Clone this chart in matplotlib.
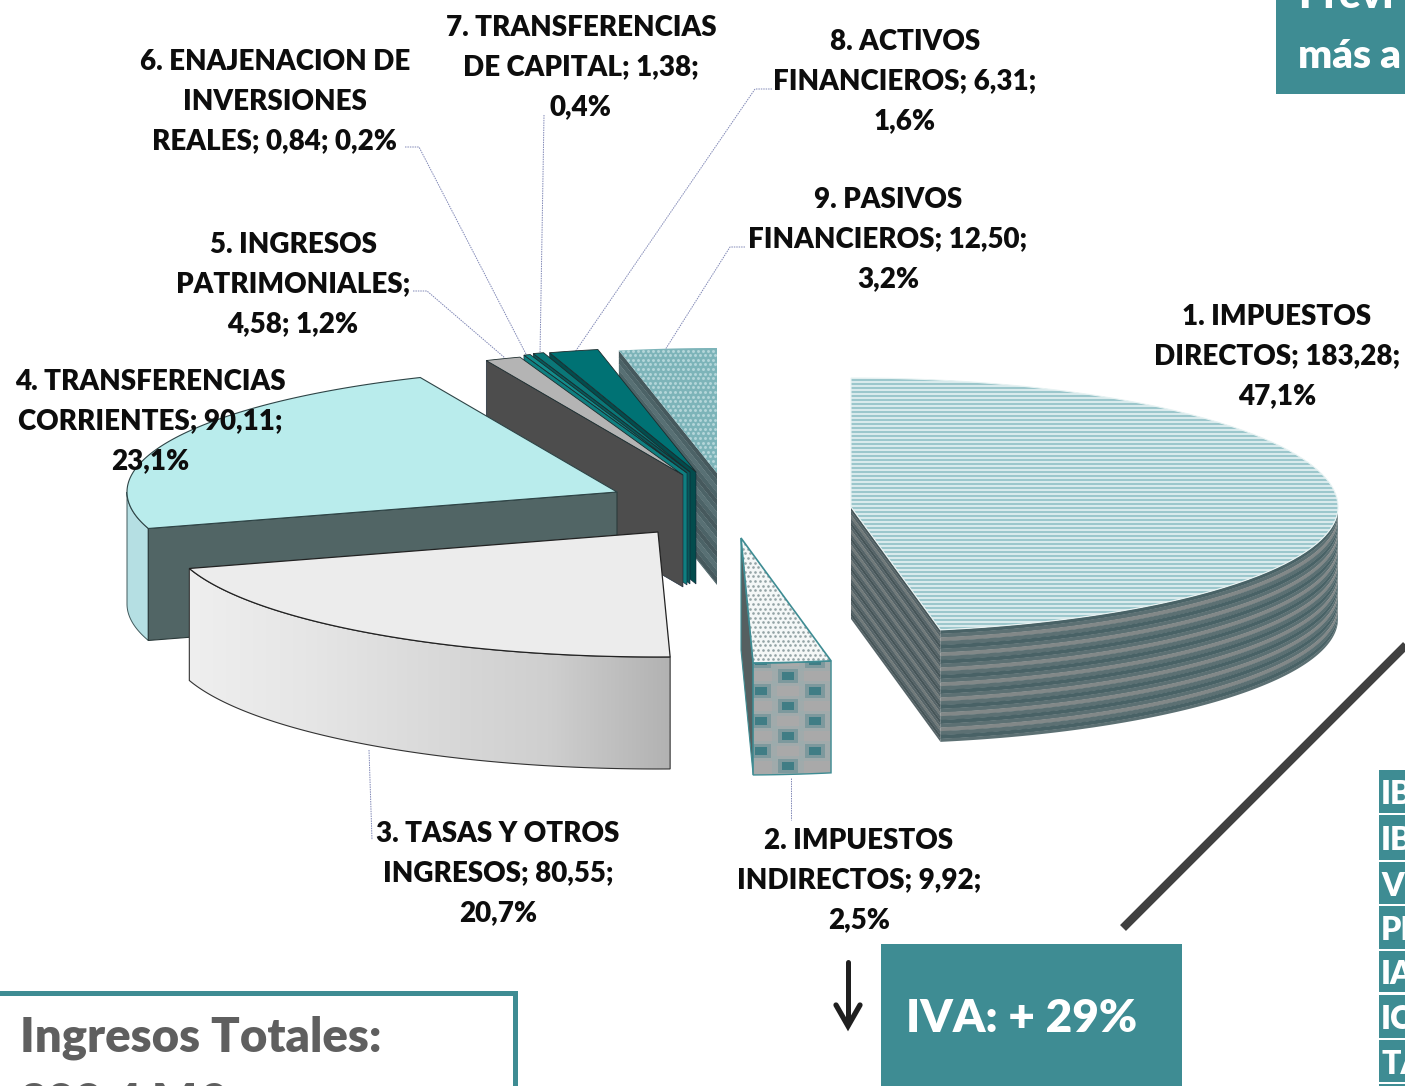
#!/usr/bin/env python3
"""Exploded 3D-style pie of budget income by chapter, with callout boxes."""

import matplotlib
matplotlib.use("Agg")
import matplotlib.pyplot as plt
import numpy as np
from matplotlib.colors import LinearSegmentedColormap
from matplotlib.patches import PathPatch, Polygon, Rectangle
from matplotlib.path import Path

# chapter values, M EUR
chapters = [
    "1. IMPUESTOS DIRECTOS", "2. IMPUESTOS INDIRECTOS", "3. TASAS Y OTROS INGRESOS",
    "4. TRANSFERENCIAS CORRIENTES", "5. INGRESOS PATRIMONIALES",
    "6. ENAJENACION DE INVERSIONES REALES", "7. TRANSFERENCIAS DE CAPITAL",
    "8. ACTIVOS FINANCIEROS", "9. PASIVOS FINANCIEROS",
]
values = [183.28, 9.92, 80.55, 90.11, 4.58, 0.84, 1.38, 6.31, 12.50]
value_text = ["183,28", "9,92", "80,55", "90,11", "4,58", "0,84", "1,38", "6,31", "12,50"]
share_text = ["47,1%", "2,5%", "20,7%", "23,1%", "1,2%", "0,2%", "0,4%", "1,6%", "3,2%"]

table_codes = ["IB", "IB", "VI", "PI", "IA", "IC", "TA"]

# pie geometry in pixels
RX, RY = 490, 125
DEPTH = 112
apex_x = [851, 741, 658, 617, 683, 687, 690, 696, 717]
apex_y = [507, 538, 532, 492, 475, 473, 472, 472, 473]

TEAL = "#3e8c93"
FONT = "Lato"
WEIGHT = "heavy"
LABEL_SIZE = 20


def edge(i, theta):
    t = np.radians(theta)
    c = np.cos(t)
    # the big slice has its own proportions: narrower, with a taller far half
    rx = 487 if i == 0 else RX
    ry = np.where((i == 0) & (c > 0), 129, RY)
    return apex_x[i] + rx * np.sin(t), apex_y[i] - ry * c


def arc(i, a, b):
    th = np.linspace(a, b, max(int(abs(b - a) * 3), 2))
    x, y = edge(i, th)
    return np.column_stack([x, y])


def poly(ax, pts, fc, ec="none", lw=0.0, z=2):
    p = Polygon(pts, closed=True, facecolor=fc, edgecolor=ec, linewidth=lw, zorder=z)
    ax.add_patch(p)
    return p


def banded(ax, pts_top, colors, period, z):
    """Fill a vertically extruded strip with soft bands running along its top edge."""
    step = period / len(colors)
    for k in range(int(np.ceil(DEPTH / step))):
        s0 = k * step
        s1 = min(s0 + step + 0.4, DEPTH)
        a = pts_top + [0, s0]
        b = pts_top + [0, s1]
        poly(ax, np.vstack([a, b[::-1]]), colors[k % len(colors)], z=z)


def strip(edge_pts):
    return np.vstack([edge_pts, (edge_pts + [0, DEPTH])[::-1]])


def dots(ax, clip, xs, ys, color, size, z):
    gx, gy = np.meshgrid(xs, ys)
    gx = gx.copy()
    gx[1::2] += (xs[1] - xs[0]) / 2
    sc = ax.scatter(gx.ravel(), gy.ravel(), s=size, c=color, linewidths=0, zorder=z)
    sc.set_clip_path(clip)


def wall(i, theta):
    x, y = edge(i, theta)
    return np.array([[apex_x[i], apex_y[i]], [float(x), float(y)]])


def draw_pie(ax):
    spans = 360.0 * np.array(values) / sum(values)
    stop = np.cumsum(spans)
    start = stop - spans

    # back-to-front: the small slices first, the big front ones last
    side = {4: "#4d4d4d", 5: "#0f7f80", 6: "#08595a", 7: "#034c4d"}
    top = {4: "#b4b4b4", 5: "#128c8c", 6: "#0a7778", 7: "#007274"}

    # slice 9, dotted top and streaky wall
    a, b = start[8], stop[8]
    banded(ax, wall(8, a), ("#46595d", "#4c6367", "#587074", "#4c6367"), 26, 2)
    t9 = poly(ax, np.vstack([[apex_x[8], apex_y[8]], arc(8, a, b)]), "#7db4b9", z=3)
    dots(ax, t9, np.arange(610, 725, 5.0), np.arange(346, 480, 4.6), "#b4d6d9", 4.5, 3.1)

    # slices 8..5, plain fills
    for i, z in zip([7, 6, 5, 4], [4, 5, 6, 7]):
        a, b = start[i], stop[i]
        poly(ax, strip(wall(i, a)), side[i], ec="#123", lw=0.4, z=z)
        poly(ax, np.vstack([[apex_x[i], apex_y[i]], arc(i, a, b)]), top[i], ec="#1c2b2c", lw=0.6, z=z + 0.1)

    # slice 4
    a, b = start[3], stop[3]
    poly(ax, strip(arc(3, a, 270)), "#b5dfe3", ec="#40595c", lw=0.7, z=8)
    poly(ax, strip(wall(3, a)), "#516565", ec="#2b3a3a", lw=0.8, z=8.1)
    poly(ax, np.vstack([[apex_x[3], apex_y[3]], arc(3, a, b)]), "#b9ecec", ec="#2e4446", lw=0.8, z=8.2)

    # slice 3, rim shaded left to right
    a, b = start[2], stop[2]
    rim3 = strip(arc(2, a, b))
    clip3 = poly(ax, rim3, "#d8d8d8", z=9)
    grad = np.linspace(0.0, 1.0, 256).reshape(1, -1)
    im = ax.imshow(grad, extent=(185, 670, 790, 560), aspect="auto", zorder=9.1,
                   cmap=LinearSegmentedColormap.from_list(
                       "rim", ["#efefef", "#e6e6e6", "#dadada", "#cfcfcf", "#b2b2b2"]))
    im.set_clip_path(clip3)
    poly(ax, rim3, "none", ec="#333333", lw=0.8, z=9.2)
    poly(ax, np.vstack([[apex_x[2], apex_y[2]], arc(2, a, b)]), "#ececec", ec="#222222", lw=0.9, z=9.3)

    # slice 2, dotted top and patterned rim
    a, b = start[1], stop[1]
    poly(ax, strip(wall(1, b)), "#555f60", ec=TEAL, lw=0.8, z=10)
    rim2 = poly(ax, strip(arc(1, a, b)), "#a9a9a9", z=10.1)
    x0, y0 = edge(1, b)
    blob = [(-1.5, -1), (1.5, -1), (1.5, 1), (-1.5, 1)]
    for off, shift in [(0, 0), (27, -15), (-27, -15)]:
        px = float(x0) + 35 + off
        rows = float(y0) + 13 + shift + np.arange(0, 120, 30)
        layers = [(500, "#9aacae", 0.55), (220, "#6f9298", 0.7), (70, "#3a7a83", 0.9)]
        for n, (size, col, alpha) in enumerate(layers):
            sc = ax.scatter([px] * len(rows), rows, s=size, marker=blob, c=col, linewidths=0,
                            alpha=alpha, zorder=10.2 + n * 0.05)
            sc.set_clip_path(rim2)
    poly(ax, strip(arc(1, a, b)), "none", ec=TEAL, lw=1.0, z=10.4)
    t2 = poly(ax, np.vstack([[apex_x[1], apex_y[1]], arc(1, a, b)]), "#f4f7f7", z=10.5)
    dots(ax, t2, np.arange(735, 840, 5.0), np.arange(535, 670, 4.6), "#94a4a6", 3.6, 10.6)
    poly(ax, np.vstack([[apex_x[1], apex_y[1]], arc(1, a, b)]), "none", ec=TEAL, lw=1.2, z=10.7)

    # slice 1, striped top and banded sides
    a, b = start[0], stop[0]
    banded(ax, wall(0, b), ("#465558", "#566468", "#717a7a", "#566468"), 15, 11)
    banded(ax, arc(0, 90, b), ("#496266", "#5c7073", "#828888", "#5c7073"), 15, 11.1)
    top1 = np.vstack([[apex_x[0], apex_y[0]], arc(0, a, b)])
    t1 = poly(ax, top1, "#dcecee", z=11.2)
    lines = ax.hlines(np.arange(376, 632, 4.0), 845, 1345, colors="#9cc7cc", linewidth=1.5, zorder=11.3)
    lines.set_clip_path(t1)
    poly(ax, top1, "none", ec="#e8f3f3", lw=0.8, z=11.4)


def draw_leaders(ax):
    paths = [
        ([405, 419, 527], [147, 147, 356]),
        ([413, 427, 505], [291, 291, 358]),
        ([544, 540], [115, 355]),
        ([772, 755, 575], [89, 89, 352]),
        ([745, 730, 665], [247, 247, 350]),
        ([369, 372], [750, 840]),
        ([791, 791], [778, 820]),
    ]
    for xs, ys in paths:
        ax.plot(xs, ys, color="#7f86b5", lw=0.7, ls=(0, (1.5, 1)), zorder=1)


def draw_labels(ax):
    lines = [
        ["1. IMPUESTOS", "DIRECTOS; %s;" % value_text[0], share_text[0]],
        ["2. IMPUESTOS", "INDIRECTOS; %s;" % value_text[1], share_text[1]],
        ["3. TASAS Y OTROS", "INGRESOS; %s;" % value_text[2], share_text[2]],
        ["4. TRANSFERENCIAS", "CORRIENTES; %s;" % value_text[3], share_text[3]],
        ["5. INGRESOS", "PATRIMONIALES;", "%s; %s" % (value_text[4], share_text[4])],
        ["6. ENAJENACION DE", "INVERSIONES", "REALES; %s; %s" % (value_text[5], share_text[5])],
        ["7. TRANSFERENCIAS", "DE CAPITAL; %s;" % value_text[6], share_text[6]],
        ["8. ACTIVOS", "FINANCIEROS; %s;" % value_text[7], share_text[7]],
        ["9. PASIVOS", "FINANCIEROS; %s;" % value_text[8], share_text[8]],
    ]
    xs = [1277, 859, 498, 150, 293, 275, 581, 905, 888]
    ys = [317, 841, 834, 382, 245, 62, 28, 42, 200]
    for block, x, y in zip(lines, xs, ys):
        for k, s in enumerate(block):
            ax.text(x, y + k * 39.5, s, ha="center", va="center", fontsize=LABEL_SIZE,
                    fontweight=WEIGHT, family=FONT, color="#0d0d0d", zorder=20)


def draw_callouts(ax):
    # top-right box
    ax.add_patch(Rectangle((1276, -5), 140, 99, fc=TEAL, ec="none", zorder=15))
    ax.text(1298, -4, "Previ", ha="left", va="center", color="white", fontsize=29,
            fontweight=WEIGHT, family=FONT, zorder=16)
    ax.text(1298, 57, "más a", ha="left", va="center", color="white", fontsize=29,
            fontweight=WEIGHT, family=FONT, zorder=16)

    # table stub
    tops = [770, 815, 862, 906, 951, 995, 1040]
    heights = [43, 45, 42, 43, 41, 43, 42]
    for code, y, h in zip(table_codes, tops, heights):
        ax.add_patch(Rectangle((1379, y), 40, h, fc=TEAL, ec="none", zorder=15))
        ax.text(1381, y + h / 2 + 3, code, ha="left", va="center", color="white", fontsize=23,
                fontweight=WEIGHT, family=FONT, zorder=16)
    ax.add_patch(Rectangle((1379, 1084), 40, 10, fc=TEAL, ec="none", zorder=15))

    # connector and IVA box
    ax.plot([1123, 1415], [928, 636], color="#404040", lw=6, solid_capstyle="butt", zorder=14)
    ax.add_patch(Rectangle((881, 944), 301, 150, fc=TEAL, ec="none", zorder=15))
    ax.text(906, 1019, "IVA: + 29%", ha="left", va="center", color="white", fontsize=33,
            fontweight=WEIGHT, family=FONT, zorder=16)

    # down arrow beside the IVA box
    for xs, ys, lw in [([848, 848], [962, 1024], 3.6), ([836, 848, 860], [1005, 1026, 1005], 3.8)]:
        ax.plot(xs, ys, color="#1f1f1f", lw=lw, solid_capstyle="round", solid_joinstyle="miter", zorder=16)

    # totals box
    verts = [(-4, 1100), (-4, 993), (515, 993), (515, 1100)]
    ax.add_patch(PathPatch(Path(verts), fc="white", ec=TEAL, lw=3.6, zorder=15))
    ax.text(20, 1038, "Ingresos Totales:", ha="left", va="center", color="#5f5f5f", fontsize=34,
            fontweight=WEIGHT, family=FONT, zorder=16)
    ax.text(20, 1103, "389,4 M€", ha="left", va="center", color="#5f5f5f", fontsize=34,
            fontweight=WEIGHT, family=FONT, zorder=16)


def main():
    fig = plt.figure(figsize=(14.05, 10.86), dpi=100)
    ax = fig.add_axes([0, 0, 1, 1])
    draw_leaders(ax)
    draw_pie(ax)
    draw_labels(ax)
    draw_callouts(ax)
    ax.set_xlim(0, 1405)
    ax.set_ylim(1086, 0)
    ax.axis("off")
    fig.savefig("out.png", dpi=100)
    plt.close(fig)


if __name__ == "__main__":
    main()
